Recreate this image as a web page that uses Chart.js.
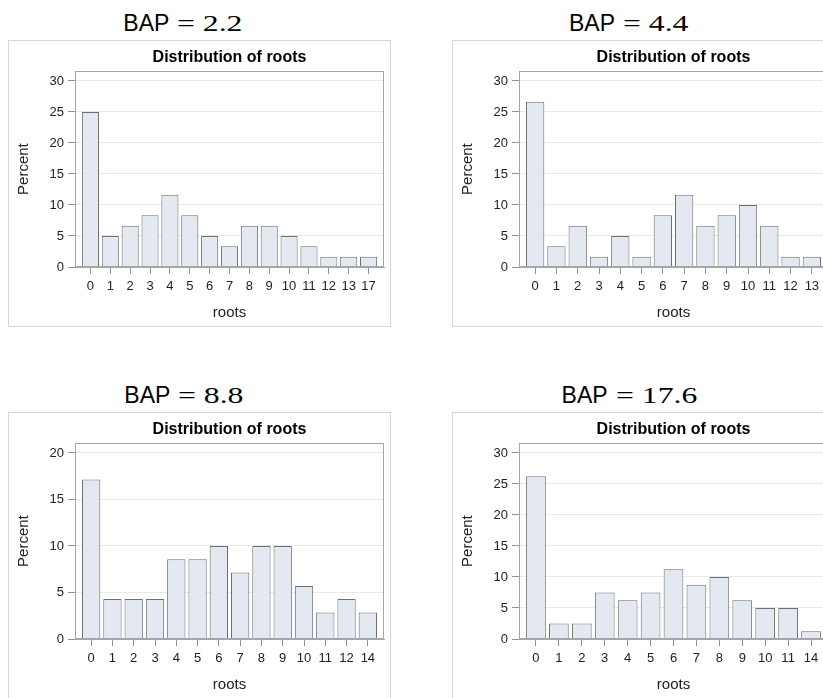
<!DOCTYPE html>
<html>
<head>
<meta charset="utf-8">
<script src="https://cdn.jsdelivr.net/npm/chart.js@4"></script>
<style>
  html, body { margin:0; padding:0; background:#fff; overflow:hidden; }
  #stage { position:relative; width:823px; height:698px; overflow:hidden; background:#fff; }
  canvas { position:absolute; }
  .bap { position:absolute; white-space:nowrap; line-height:28px; color:#000; }
  .bap .a { font-family:"Liberation Sans", Arial, sans-serif; font-size:23px; }
  .bap .b { display:inline-block; font-family:"Liberation Serif", "Times New Roman", serif; font-size:24px;
            transform:scaleX(1.32); transform-origin:left center; margin-left:8px; }
</style>
</head>
<body>
<div id="stage"></div>
<script>
// ---- data ----
const bapValues = ['2.2', '4.4', '8.8', '17.6'];
const chartTitle = 'Distribution of roots';
const xTitle = 'roots';
const yTitle = 'Percent';

const roots1 = ['0','1','2','3','4','5','6','7','8','9','10','11','12','13','17'];
const percent1 = [25.0, 5.0, 6.67, 8.33, 11.67, 8.33, 5.0, 3.33, 6.67, 6.67, 5.0, 3.33, 1.67, 1.67, 1.67];

const roots2 = ['0','1','2','3','4','5','6','7','8','9','10','11','12','13'];
const percent2 = [26.67, 3.33, 6.67, 1.67, 5.0, 1.67, 8.33, 11.67, 6.67, 8.33, 10.0, 6.67, 1.67, 1.67];

const roots3 = ['0','1','2','3','4','5','6','7','8','9','10','11','12','14'];
const percent3 = [17.14, 4.29, 4.29, 4.29, 8.57, 8.57, 10.0, 7.14, 10.0, 10.0, 5.71, 2.86, 4.29, 2.86];

const roots4 = ['0','1','2','3','4','5','6','7','8','9','10','11','14'];
const percent4 = [26.25, 2.5, 2.5, 7.5, 6.25, 7.5, 11.25, 8.75, 10.0, 6.25, 5.0, 5.0, 1.25];

const yTickMax = [30, 30, 20, 30];
const yTickStep = 5;

// ---- layout (positions / styles) ----
const FONT = '"Liberation Sans", Arial, sans-serif';
const panels = [
  { left: 8,   top: 40,  cats: roots1, vals: percent1, ymax: yTickMax[0], bap: bapValues[0], bapLeft: 123.3 },
  { left: 452, top: 40,  cats: roots2, vals: percent2, ymax: yTickMax[1], bap: bapValues[1], bapLeft: 569 },
  { left: 8,   top: 412, cats: roots3, vals: percent3, ymax: yTickMax[2], bap: bapValues[2], bapLeft: 124.3 },
  { left: 452, top: 412, cats: roots4, vals: percent4, ymax: yTickMax[3], bap: bapValues[3], bapLeft: 561.6 }
];
const BOX_W = 383, BOX_H = 287;
const PLOT_W = 309, EDGE_PAD = 5.5;

const framePlugin = {
  id: 'frame',
  afterDraw(chart) {
    const { ctx, chartArea: a } = chart;
    ctx.save();
    ctx.lineWidth = 1;
    ctx.strokeStyle = '#a3a6ab';
    const l = Math.round(a.left) + 0.5, t = Math.round(a.top) + 0.5;
    const r = Math.round(a.right) - 0.5, b = Math.round(a.bottom) - 0.5;
    ctx.beginPath();
    ctx.moveTo(l, b); ctx.lineTo(l, t); ctx.lineTo(r, t); ctx.lineTo(r, b); ctx.lineTo(l, b);
    ctx.stroke();
    ctx.strokeStyle = '#d6d6d6';
    ctx.strokeRect(0.5, 0.5, chart.width - 1, chart.height - 1);
    ctx.restore();
  }
};

const stage = document.getElementById('stage');

panels.forEach((p) => {
  // BAP heading
  const h = document.createElement('div');
  h.className = 'bap';
  h.style.left = p.bapLeft + 'px';
  h.style.top = (p.top - 31) + 'px';
  h.innerHTML = '<span class="a">BAP</span><span class="b">= ' + p.bap + '</span>';
  stage.appendChild(h);

  const cv = document.createElement('canvas');
  cv.width = BOX_W; cv.height = BOX_H;
  cv.style.left = p.left + 'px'; cv.style.top = p.top + 'px';
  cv.style.width = BOX_W + 'px'; cv.style.height = BOX_H + 'px';
  stage.appendChild(cv);

  const n = p.cats.length;
  const spacing = (PLOT_W - 2 * EDGE_PAD) / n;
  const padU = EDGE_PAD / spacing;

  new Chart(cv, {
    type: 'bar',
    data: {
      datasets: [{
        data: p.vals.map((v, i) => ({ x: i, y: v })),
        backgroundColor: '#e3e8f1',
        borderColor: '#6f6f6f',
        borderWidth: 1,
        barPercentage: 0.86,
        categoryPercentage: 1
      }]
    },
    options: {
      responsive: false,
      animation: false,
      devicePixelRatio: 1,
      layout: { padding: { left: 0, right: 7, top: 0, bottom: 0 } },
      plugins: {
        legend: { display: false },
        tooltip: { enabled: false },
        title: {
          display: true, text: chartTitle, color: '#000', fullSize: false,
          font: { family: FONT, size: 16, weight: 'bold' },
          padding: { top: 8, bottom: 4 }
        }
      },
      scales: {
        x: {
          type: 'linear',
          min: -0.5 - padU,
          max: n - 0.5 + padU,
          offset: false,
          ticks: {
            stepSize: 1, includeBounds: false, autoSkip: false, maxRotation: 0, minRotation: 0,
            maxTicksLimit: 100,
            callback: (v) => p.cats[Math.round(v)],
            font: { family: FONT, size: 13 }, color: '#222', padding: 5
          },
          grid: { drawOnChartArea: false, drawTicks: true, tickLength: 7, tickColor: '#8f9296', offset: false },
          border: { display: true, color: '#a3a6ab' },
          title: { display: true, text: xTitle, color: '#222', font: { family: FONT, size: 15 }, padding: { top: 0, bottom: 5 } },
          afterFit: (s) => { s.height = 60; }
        },
        y: {
          min: 0,
          max: p.ymax / 0.95,
          ticks: {
            stepSize: yTickStep, includeBounds: false, maxTicksLimit: 100,
            font: { family: FONT, size: 13 }, color: '#222', padding: 4
          },
          grid: { color: '#e9e9e9', drawTicks: true, tickLength: 7, tickColor: '#8f9296' },
          border: { display: true, color: '#a3a6ab' },
          title: { display: true, text: yTitle, color: '#222', font: { family: FONT, size: 15 }, padding: { top: 7, bottom: 0 } },
          afterFit: (s) => { s.width = 67; }
        }
      }
    },
    plugins: [framePlugin]
  });
});
</script>
</body>
</html>
